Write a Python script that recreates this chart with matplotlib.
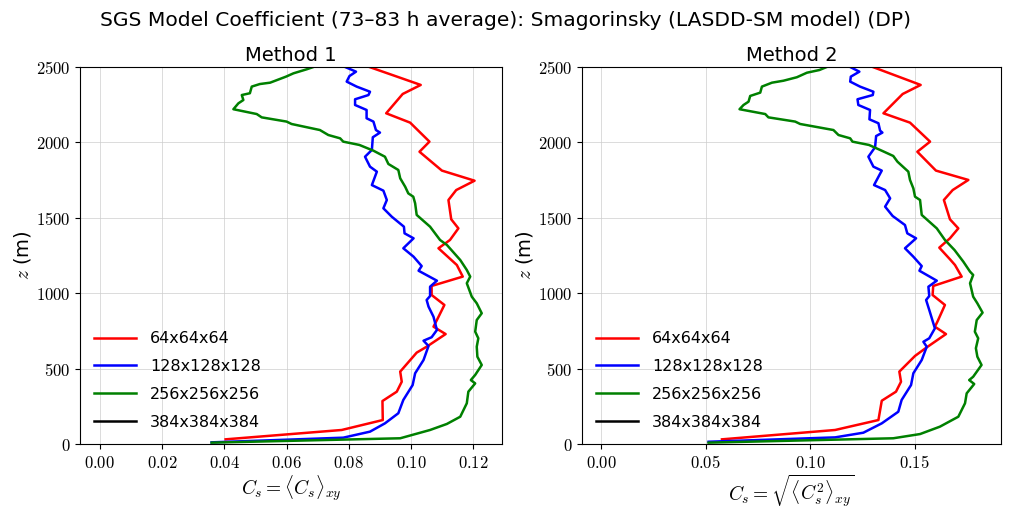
import numpy as np
import matplotlib
matplotlib.use("Agg")
import matplotlib.pyplot as plt
from matplotlib.ticker import FuncFormatter

plt.rcParams['mathtext.fontset'] = 'cm'
plt.rcParams['font.family'] = ['DejaVu Sans']

labels = ['64x64x64', '128x128x128', '256x256x256', '384x384x384']
colors = ['red', 'blue', 'green', 'black']

# Method 1 profiles (z in m, Cs)
z_64_m1 = [31, 93, 159, 285, 347, 413, 480, 606, 645, 729, 778, 822, 922, 988, 1048, 1110,
           1187, 1298, 1353, 1430, 1490, 1618, 1684, 1746, 1813, 1938, 2005, 2131, 2193,
           2321, 2381, 2500]
cs_64_m1 = [0.0404, 0.0777, 0.0909, 0.0908, 0.0954, 0.0970, 0.0965, 0.1018, 0.1050, 0.1111,
            0.1072, 0.1083, 0.1107, 0.1066, 0.1066, 0.1166, 0.1147, 0.1088, 0.1125, 0.1152,
            0.1129, 0.1120, 0.1145, 0.1204, 0.1099, 0.1027, 0.1059, 0.0997, 0.0920, 0.0973,
            0.1031, 0.0866]

z_128_m1 = [11, 42, 82, 137, 204, 292, 391, 469, 557, 650, 685, 708, 756, 844, 911, 955, 981,
            1043, 1083, 1149, 1180, 1242, 1298, 1364, 1397, 1441, 1507, 1563, 1618, 1680,
            1717, 1806, 1839, 1905, 1950, 2034, 2065, 2082, 2138, 2160, 2215, 2248, 2286,
            2314, 2336, 2370, 2403, 2440, 2469, 2500]
cs_128_m1 = [0.0359, 0.0782, 0.0868, 0.0916, 0.0959, 0.0975, 0.1005, 0.1013, 0.1040, 0.1056,
             0.1040, 0.1066, 0.1083, 0.1072, 0.1056, 0.1050, 0.1061, 0.1061, 0.1083, 0.1024,
             0.1034, 0.1008, 0.0975, 0.1008, 0.0979, 0.0977, 0.0938, 0.0911, 0.0922, 0.0911,
             0.0874, 0.0890, 0.0868, 0.0852, 0.0874, 0.0877, 0.0900, 0.0887, 0.0879, 0.0857,
             0.0857, 0.0820, 0.0820, 0.0863, 0.0868, 0.0825, 0.0793, 0.0802, 0.0823, 0.0788]

z_256_m1 = [9, 38, 93, 133, 181, 270, 347, 402, 424, 458, 524, 579, 645, 701, 745, 822, 867,
            933, 977, 1066, 1110, 1154, 1220, 1320, 1353, 1441, 1519, 1596, 1640, 1662, 1706,
            1762, 1817, 1857, 1905, 1945, 1983, 2005, 2027, 2049, 2082, 2122, 2138, 2166,
            2188, 2220, 2259, 2281, 2314, 2326, 2370, 2387, 2396, 2436, 2458, 2485, 2500]
cs_256_m1 = [0.0359, 0.0965, 0.1061, 0.1115, 0.1158, 0.1179, 0.1184, 0.1206, 0.1192, 0.1206,
             0.1227, 0.1213, 0.1211, 0.1216, 0.1206, 0.1211, 0.1227, 0.1211, 0.1195, 0.1179,
             0.1190, 0.1179, 0.1158, 0.1115, 0.1093, 0.1061, 0.1018, 0.1013, 0.1007, 0.0991,
             0.0981, 0.0965, 0.0959, 0.0927, 0.0916, 0.0879, 0.0834, 0.0782, 0.0772, 0.0734,
             0.0707, 0.0616, 0.0600, 0.0520, 0.0504, 0.0429, 0.0445, 0.0461, 0.0456, 0.0482,
             0.0488, 0.0514, 0.0547, 0.0598, 0.0622, 0.0665, 0.0686]

# Method 2 profiles
z_64_m2 = [31, 93, 159, 287, 347, 413, 480, 584, 641, 729, 778, 811, 922, 988, 1048, 1110,
           1187, 1225, 1302, 1364, 1430, 1490, 1618, 1684, 1751, 1813, 1938, 2005, 2131,
           2193, 2321, 2381, 2500]
cs_64_m2 = [0.0578, 0.1119, 0.1326, 0.1342, 0.1410, 0.1434, 0.1426, 0.1501, 0.1557, 0.1649,
            0.1596, 0.1608, 0.1644, 0.1585, 0.1588, 0.1724, 0.1692, 0.1668, 0.1617, 0.1668,
            0.1708, 0.1668, 0.1639, 0.1681, 0.1756, 0.1601, 0.1512, 0.1573, 0.1477, 0.1350,
            0.1442, 0.1528, 0.1299]

z_128_m2 = [15, 44, 75, 137, 214, 292, 391, 469, 557, 645, 678, 701, 767, 889, 955, 981,
            1043, 1083, 1149, 1180, 1242, 1298, 1364, 1397, 1452, 1512, 1574, 1629, 1684,
            1717, 1813, 1839, 1905, 1968, 2042, 2065, 2078, 2127, 2153, 2215, 2248, 2286,
            2314, 2336, 2370, 2403, 2436, 2469, 2500]
cs_128_m2 = [0.0514, 0.1119, 0.1254, 0.1342, 0.1421, 0.1437, 0.1482, 0.1493, 0.1533, 0.1557,
             0.1541, 0.1569, 0.1596, 0.1569, 0.1554, 0.1569, 0.1565, 0.1605, 0.1522, 0.1533,
             0.1493, 0.1453, 0.1506, 0.1464, 0.1453, 0.1394, 0.1358, 0.1382, 0.1358, 0.1305,
             0.1342, 0.1302, 0.1278, 0.1310, 0.1315, 0.1345, 0.1334, 0.1326, 0.1283, 0.1286,
             0.1230, 0.1226, 0.1299, 0.1302, 0.1238, 0.1191, 0.1194, 0.1235, 0.1191]

z_256_m2 = [9, 38, 66, 115, 181, 270, 336, 398, 424, 446, 524, 579, 635, 701, 745, 822, 871,
            933, 977, 1066, 1121, 1143, 1209, 1286, 1353, 1430, 1519, 1618, 1640, 1695, 1751,
            1806, 1872, 1910, 1945, 1983, 2005, 2027, 2049, 2082, 2122, 2138, 2166, 2188,
            2220, 2248, 2270, 2308, 2330, 2370, 2396, 2409, 2432, 2462, 2480, 2500]
cs_256_m2 = [0.0514, 0.1397, 0.1525, 0.1620, 0.1708, 0.1740, 0.1748, 0.1784, 0.1760, 0.1779,
             0.1819, 0.1799, 0.1792, 0.1803, 0.1787, 0.1796, 0.1824, 0.1799, 0.1779, 0.1764,
             0.1779, 0.1764, 0.1732, 0.1690, 0.1644, 0.1605, 0.1533, 0.1525, 0.1501, 0.1493,
             0.1477, 0.1469, 0.1417, 0.1397, 0.1342, 0.1281, 0.1202, 0.1191, 0.1135, 0.1111,
             0.0952, 0.0928, 0.0800, 0.0785, 0.0662, 0.0681, 0.0705, 0.0713, 0.0761, 0.0769,
             0.0817, 0.0872, 0.0936, 0.0984, 0.1044, 0.1079]

method1 = [(cs_64_m1, z_64_m1), (cs_128_m1, z_128_m1), (cs_256_m1, z_256_m1), ([], [])]
method2 = [(cs_64_m2, z_64_m2), (cs_128_m2, z_128_m2), (cs_256_m2, z_256_m2), ([], [])]

fig = plt.figure(figsize=(10.11, 5.11), dpi=100)
ax1 = fig.add_axes([0.0791, 0.1311, 0.4174, 0.7378])
ax2 = fig.add_axes([0.5757, 0.1311, 0.4144, 0.7378])

panels = [
    (ax1, method1, 'Method 1', r'$C_s = \langle C_s \rangle_{xy}$', (-0.0064, 0.1292),
     [0.0, 0.02, 0.04, 0.06, 0.08, 0.10, 0.12]),
    (ax2, method2, 'Method 2', r'$C_s = \sqrt{\langle C_s^2 \rangle_{xy}}$', (-0.0091, 0.1912),
     [0.0, 0.05, 0.10, 0.15]),
]

for ax, data, title, xlabel, xlim, xticks in panels:
    for (cs, z), lab, c in zip(data, labels, colors):
        ax.plot(cs, z, color=c, lw=1.8, label=lab)
    ax.set_xlim(*xlim)
    ax.set_ylim(0, 2500)
    ax.set_xticks(xticks)
    ax.set_yticks([0, 500, 1000, 1500, 2000, 2500])
    ax.xaxis.set_major_formatter(FuncFormatter(lambda v, p: '$%.2f$' % v))
    ax.yaxis.set_major_formatter(FuncFormatter(lambda v, p: '$%d$' % v))
    ax.tick_params(labelsize=12)
    ax.grid(True, color='#cccccc', lw=0.7, alpha=0.7)
    ax.set_title(title, fontsize=14, pad=4)
    ax.set_xlabel(xlabel, fontsize=14, labelpad=1)
    ax.set_ylabel(r'$z$ (m)', fontsize=14, labelpad=2)
    ax.legend(loc='lower left', bbox_to_anchor=(0.0, 0.0), frameon=False, fontsize=11.5,
              handlelength=2.6, handletextpad=0.9, labelspacing=0.8)

fig.suptitle('SGS Model Coefficient (73–83 h average): Smagorinsky (LASDD-SM model) (DP)',
             fontsize=14.6, y=0.978)

plt.savefig('out.png', dpi=100)
